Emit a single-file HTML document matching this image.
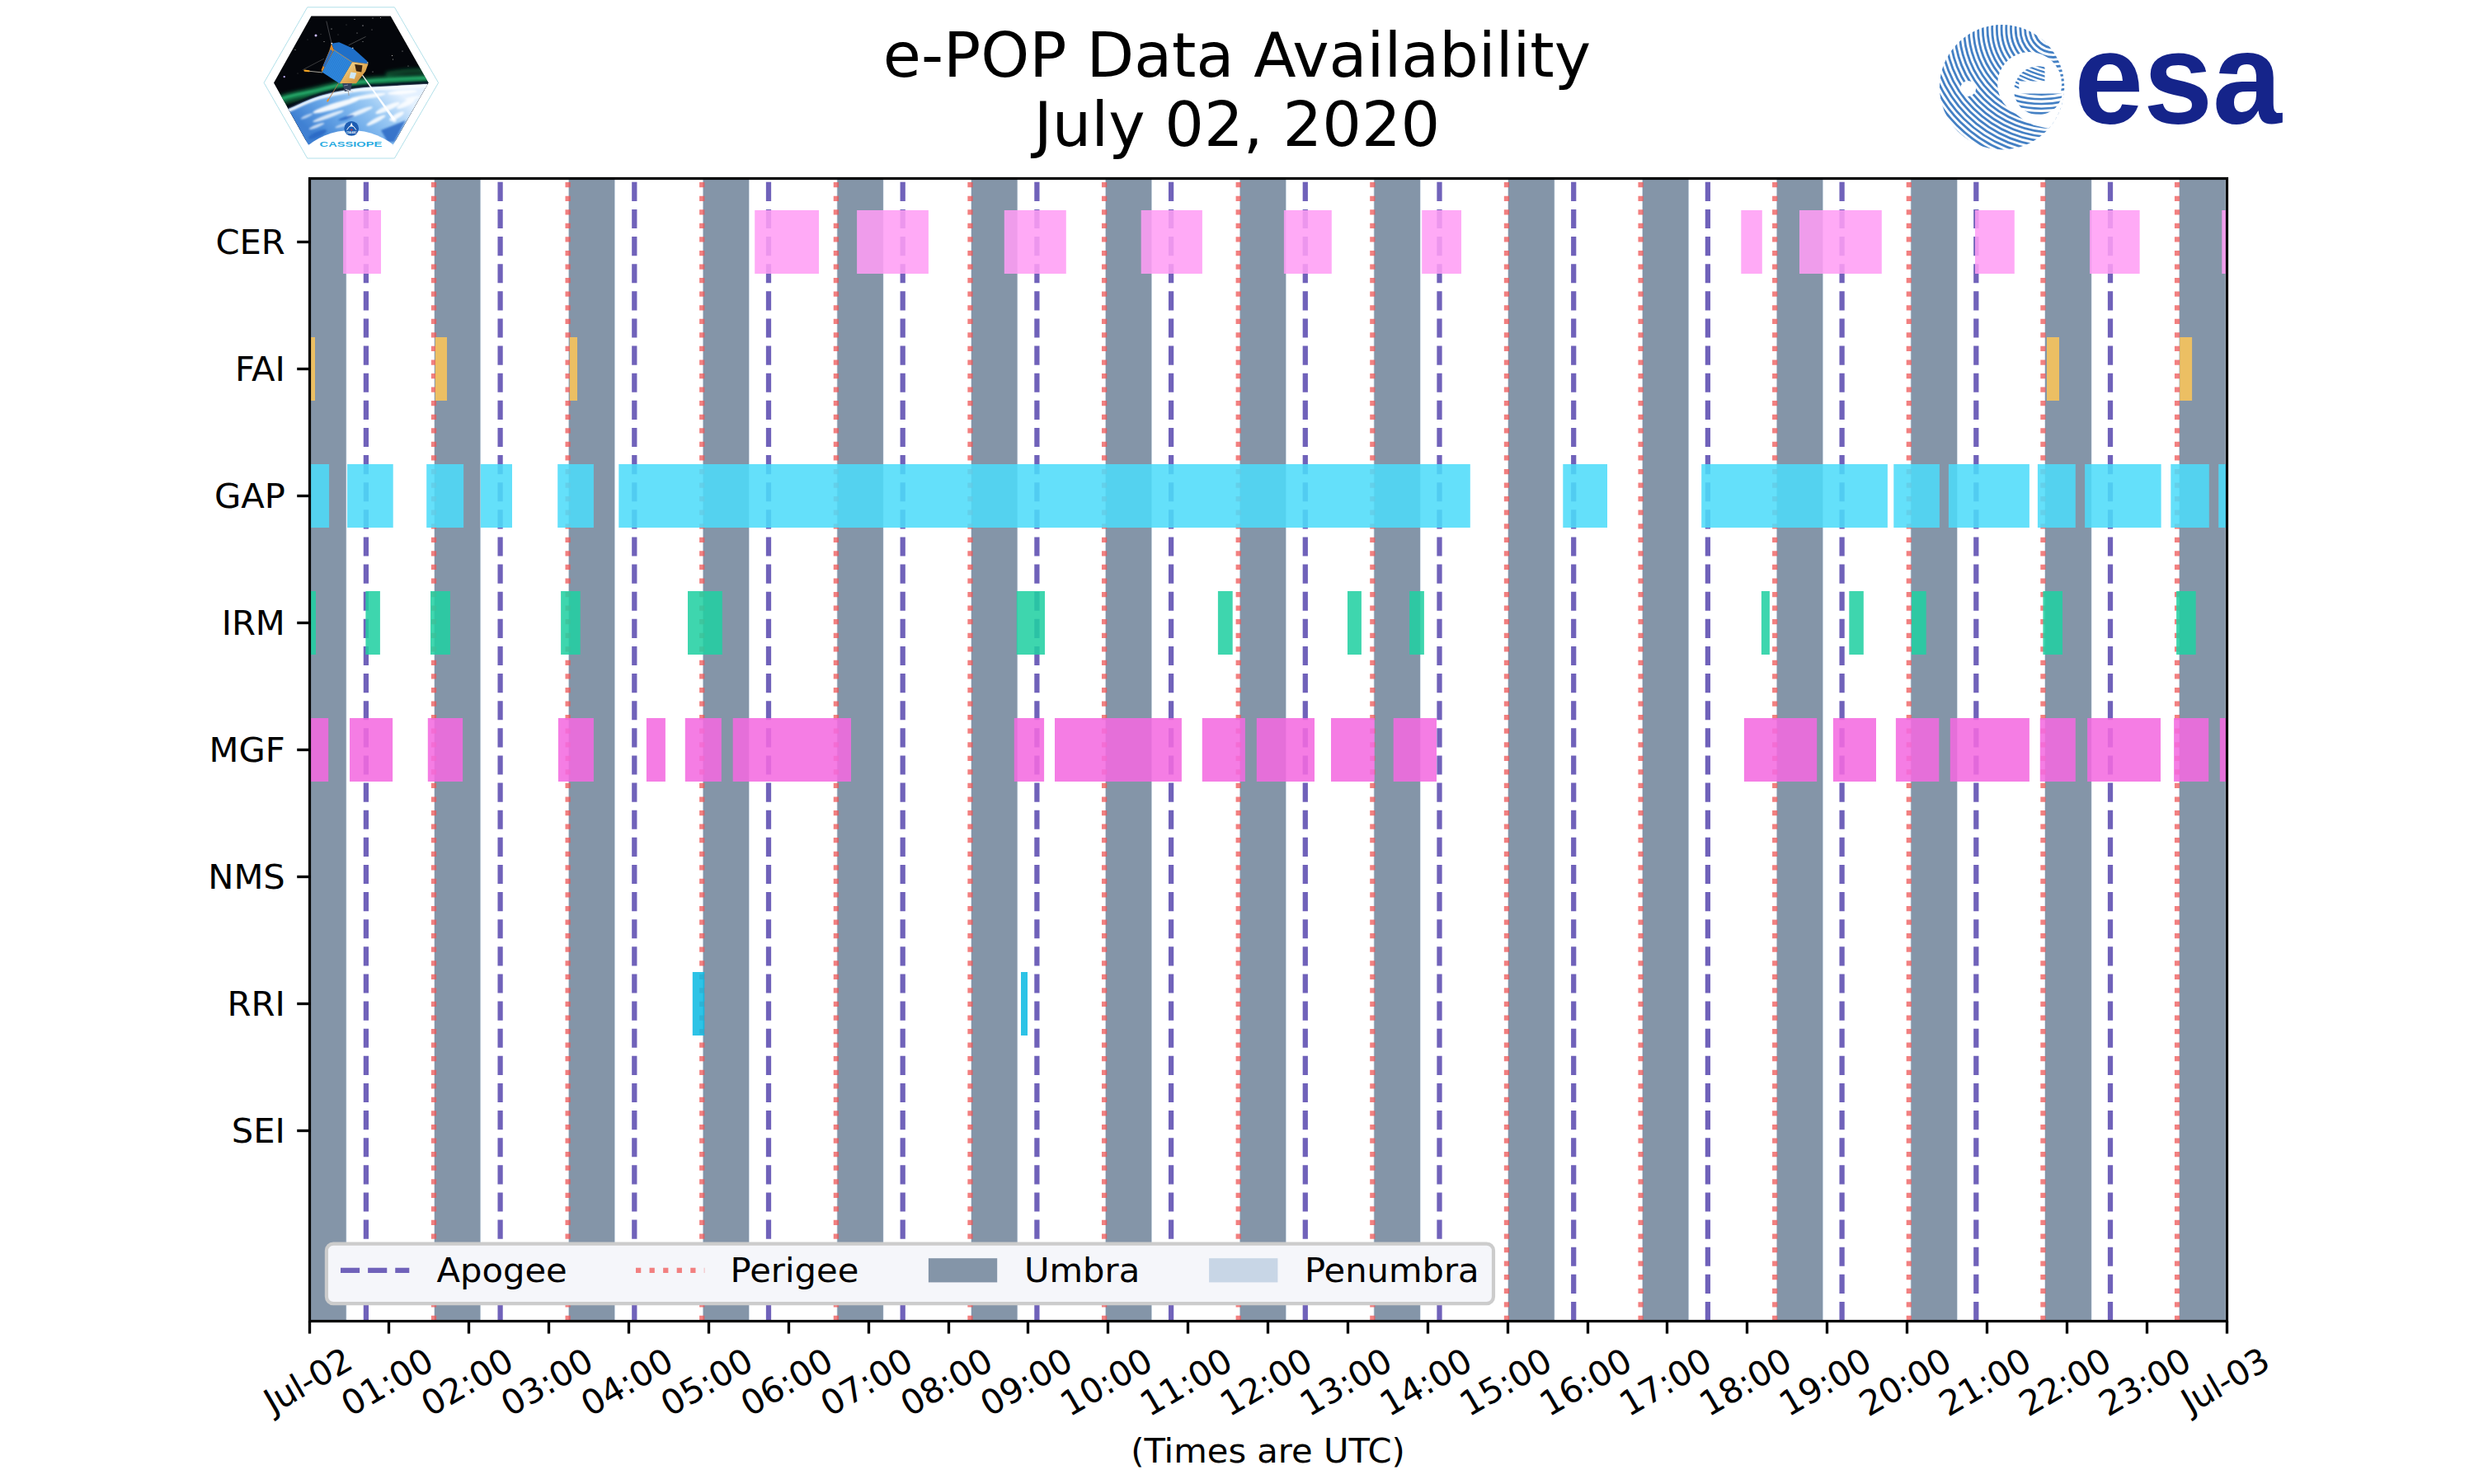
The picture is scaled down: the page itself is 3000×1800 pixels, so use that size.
<!DOCTYPE html>
<html lang="en"><head><meta charset="utf-8"><title>e-POP Data Availability</title>
<style>
html,body{margin:0;padding:0;background:#fff;}
body{width:3000px;height:1800px;overflow:hidden;}
svg{display:block;}
text{font-family:"DejaVu Sans","Liberation Sans",sans-serif;fill:#000;}
.t10{font-size:41.667px;}
.t18{font-size:75px;}
</style></head><body>
<svg width="3000" height="1800" viewBox="0 0 3000 1800">
<rect width="3000" height="1800" fill="#fff"/>
<g class="t18" text-anchor="middle"><text x="1500" y="93">e-POP Data Availability</text><text x="1500" y="177">July 02, 2020</text></g>
<g id="umbra" fill="#8495a8" shape-rendering="auto">
<rect x="375" y="216" width="44.9" height="1386"/><rect x="526.9" y="216" width="55.78" height="1386"/><rect x="689.65" y="216" width="55.81" height="1386"/><rect x="852.4" y="216" width="55.84" height="1386"/><rect x="1015.15" y="216" width="55.87" height="1386"/><rect x="1177.9" y="216" width="55.9" height="1386"/><rect x="1340.65" y="216" width="55.93" height="1386"/><rect x="1503.4" y="216" width="55.96" height="1386"/><rect x="1666.15" y="216" width="55.99" height="1386"/><rect x="1828.9" y="216" width="56.02" height="1386"/><rect x="1991.65" y="216" width="56.05" height="1386"/><rect x="2154.4" y="216" width="56.08" height="1386"/><rect x="2317.15" y="216" width="56.11" height="1386"/><rect x="2479.9" y="216" width="56.14" height="1386"/><rect x="2642.65" y="216" width="56.17" height="1386"/>
</g>
<g id="penumbra" fill="#c8d6e6">
<rect x="419.75" y="216" width="0.5" height="1386"/><rect x="526.5" y="216" width="0.5" height="1386"/><rect x="582.53" y="216" width="0.5" height="1386"/><rect x="689.25" y="216" width="0.5" height="1386"/><rect x="745.31" y="216" width="0.5" height="1386"/><rect x="852" y="216" width="0.5" height="1386"/><rect x="908.09" y="216" width="0.5" height="1386"/><rect x="1014.75" y="216" width="0.5" height="1386"/><rect x="1070.87" y="216" width="0.5" height="1386"/><rect x="1177.5" y="216" width="0.5" height="1386"/><rect x="1233.65" y="216" width="0.5" height="1386"/><rect x="1340.25" y="216" width="0.5" height="1386"/><rect x="1396.43" y="216" width="0.5" height="1386"/><rect x="1503" y="216" width="0.5" height="1386"/><rect x="1559.21" y="216" width="0.5" height="1386"/><rect x="1665.75" y="216" width="0.5" height="1386"/><rect x="1721.99" y="216" width="0.5" height="1386"/><rect x="1828.5" y="216" width="0.5" height="1386"/><rect x="1884.77" y="216" width="0.5" height="1386"/><rect x="1991.25" y="216" width="0.5" height="1386"/><rect x="2047.55" y="216" width="0.5" height="1386"/><rect x="2154" y="216" width="0.5" height="1386"/><rect x="2210.33" y="216" width="0.5" height="1386"/><rect x="2316.75" y="216" width="0.5" height="1386"/><rect x="2373.11" y="216" width="0.5" height="1386"/><rect x="2479.5" y="216" width="0.5" height="1386"/><rect x="2535.89" y="216" width="0.5" height="1386"/><rect x="2642.25" y="216" width="0.5" height="1386"/><rect x="2698.67" y="216" width="0.5" height="1386"/>
</g>
<g id="apogee" stroke="#7062ba" stroke-width="6.25" stroke-dasharray="23.125 10" fill="none">
<path d="M443.9 1602 V216"/><path d="M606.6 1602 V216"/><path d="M769.3 1602 V216"/><path d="M932 1602 V216"/><path d="M1094.7 1602 V216"/><path d="M1257.4 1602 V216"/><path d="M1420.1 1602 V216"/><path d="M1582.8 1602 V216"/><path d="M1745.5 1602 V216"/><path d="M1908.2 1602 V216"/><path d="M2070.9 1602 V216"/><path d="M2233.6 1602 V216"/><path d="M2396.3 1602 V216"/><path d="M2559 1602 V216"/>
</g>
<g id="perigee" stroke="rgba(238,86,86,0.75)" stroke-width="6.25" stroke-dasharray="6.25 10.3125" fill="none">
<path d="M526 1602 V216"/><path d="M688.62 1602 V216"/><path d="M851.24 1602 V216"/><path d="M1013.86 1602 V216"/><path d="M1176.48 1602 V216"/><path d="M1339.1 1602 V216"/><path d="M1501.72 1602 V216"/><path d="M1664.34 1602 V216"/><path d="M1826.96 1602 V216"/><path d="M1989.58 1602 V216"/><path d="M2152.2 1602 V216"/><path d="M2314.82 1602 V216"/><path d="M2477.44 1602 V216"/><path d="M2640.06 1602 V216"/>
</g>
<g fill="#ff9df5" fill-opacity="0.87"><rect x="416.1" y="255" width="45.9" height="77"/><rect x="915.2" y="255" width="77.8" height="77"/><rect x="1039.1" y="255" width="86.8" height="77"/><rect x="1217.8" y="255" width="75" height="77"/><rect x="1383.7" y="255" width="74.2" height="77"/><rect x="1556.9" y="255" width="57.9" height="77"/><rect x="1724.2" y="255" width="47.8" height="77"/><rect x="2111.3" y="255" width="25.5" height="77"/><rect x="2182" y="255" width="99.8" height="77"/><rect x="2395" y="255" width="47.8" height="77"/><rect x="2534" y="255" width="60.6" height="77"/><rect x="2694.3" y="255" width="5.7" height="77"/></g>
<g fill="#fbc658" fill-opacity="0.87"><rect x="375" y="409" width="7" height="77"/><rect x="527.8" y="409" width="14.2" height="77"/><rect x="690.8" y="409" width="9.2" height="77"/><rect x="2482" y="409" width="15" height="77"/><rect x="2643.2" y="409" width="14.9" height="77"/></g>
<g fill="#4ddbf9" fill-opacity="0.87"><rect x="375" y="563" width="24.1" height="77"/><rect x="421.1" y="563" width="55.6" height="77"/><rect x="517.2" y="563" width="44.9" height="77"/><rect x="582.8" y="563" width="38.2" height="77"/><rect x="676.2" y="563" width="43.7" height="77"/><rect x="750.3" y="563" width="1032.5" height="77"/><rect x="1895.3" y="563" width="53.7" height="77"/><rect x="2063.2" y="563" width="225.7" height="77"/><rect x="2296.3" y="563" width="55.6" height="77"/><rect x="2362.9" y="563" width="98" height="77"/><rect x="2470.9" y="563" width="45.9" height="77"/><rect x="2528.1" y="563" width="92.5" height="77"/><rect x="2632.3" y="563" width="46.5" height="77"/><rect x="2690.2" y="563" width="9.8" height="77"/></g>
<g fill="#21d0a2" fill-opacity="0.87"><rect x="375" y="717" width="8" height="77"/><rect x="443.4" y="717" width="17.5" height="77"/><rect x="522" y="717" width="23.9" height="77"/><rect x="680.1" y="717" width="23.6" height="77"/><rect x="834" y="717" width="41.8" height="77"/><rect x="1232.8" y="717" width="34.2" height="77"/><rect x="1476.9" y="717" width="17.8" height="77"/><rect x="1634" y="717" width="16.9" height="77"/><rect x="1709.1" y="717" width="17.8" height="77"/><rect x="2135.9" y="717" width="10" height="77"/><rect x="2242.3" y="717" width="17.5" height="77"/><rect x="2318" y="717" width="17.7" height="77"/><rect x="2477.4" y="717" width="23.6" height="77"/><rect x="2639.1" y="717" width="23.6" height="77"/></g>
<g fill="#f36ae0" fill-opacity="0.87"><rect x="375" y="871" width="23.2" height="77"/><rect x="424" y="871" width="52.1" height="77"/><rect x="518.8" y="871" width="42.3" height="77"/><rect x="676.9" y="871" width="43" height="77"/><rect x="783.9" y="871" width="23" height="77"/><rect x="830.8" y="871" width="44" height="77"/><rect x="888.7" y="871" width="143.3" height="77"/><rect x="1229.8" y="871" width="36.3" height="77"/><rect x="1279" y="871" width="153.9" height="77"/><rect x="1457.8" y="871" width="52.1" height="77"/><rect x="1523.8" y="871" width="70.2" height="77"/><rect x="1614" y="871" width="52.7" height="77"/><rect x="1689.7" y="871" width="52.3" height="77"/><rect x="2114.9" y="871" width="88.3" height="77"/><rect x="2222.9" y="871" width="52.1" height="77"/><rect x="2298.9" y="871" width="52.4" height="77"/><rect x="2364.8" y="871" width="96.1" height="77"/><rect x="2473.8" y="871" width="43" height="77"/><rect x="2531.1" y="871" width="88.9" height="77"/><rect x="2636.1" y="871" width="42.1" height="77"/><rect x="2691.8" y="871" width="8.2" height="77"/></g>
<g fill="#0ebae2" fill-opacity="0.87"><rect x="375" y="1179" width="1.5" height="77"/><rect x="839.8" y="1179" width="14.5" height="77"/><rect x="1238" y="1179" width="8" height="77"/></g>
<rect x="375.5" y="216.5" width="2325" height="1386" fill="none" stroke="#000" stroke-width="3.2" stroke-linejoin="miter"/>
<g stroke="#000" stroke-width="3.333">
<path d="M375.5 1602.5 V1617.6"/><path d="M471.5 1602.5 V1617.6"/><path d="M568.5 1602.5 V1617.6"/><path d="M665.5 1602.5 V1617.6"/><path d="M762.5 1602.5 V1617.6"/><path d="M859.5 1602.5 V1617.6"/><path d="M956.5 1602.5 V1617.6"/><path d="M1053.5 1602.5 V1617.6"/><path d="M1150.5 1602.5 V1617.6"/><path d="M1246.5 1602.5 V1617.6"/><path d="M1343.5 1602.5 V1617.6"/><path d="M1440.5 1602.5 V1617.6"/><path d="M1537.5 1602.5 V1617.6"/><path d="M1634.5 1602.5 V1617.6"/><path d="M1731.5 1602.5 V1617.6"/><path d="M1828.5 1602.5 V1617.6"/><path d="M1925.5 1602.5 V1617.6"/><path d="M2021.5 1602.5 V1617.6"/><path d="M2118.5 1602.5 V1617.6"/><path d="M2215.5 1602.5 V1617.6"/><path d="M2312.5 1602.5 V1617.6"/><path d="M2409.5 1602.5 V1617.6"/><path d="M2506.5 1602.5 V1617.6"/><path d="M2603.5 1602.5 V1617.6"/><path d="M2700.5 1602.5 V1617.6"/><path d="M375.5 293.5 H360.2"/><path d="M375.5 447.5 H360.2"/><path d="M375.5 601.5 H360.2"/><path d="M375.5 755.5 H360.2"/><path d="M375.5 909.5 H360.2"/><path d="M375.5 1063.5 H360.2"/><path d="M375.5 1217.5 H360.2"/><path d="M375.5 1371.5 H360.2"/>
</g>
<g class="t10" text-anchor="end">
<text x="345.8" y="308.3">CER</text><text x="345.8" y="462.3">FAI</text><text x="345.8" y="616.3">GAP</text><text x="345.8" y="770.3">IRM</text><text x="345.8" y="924.3">MGF</text><text x="345.8" y="1078.3">NMS</text><text x="345.8" y="1232.3">RRI</text><text x="345.8" y="1386.3">SEI</text>
</g>
<g class="t10" text-anchor="middle">
<text transform="translate(373.2 1674) rotate(-30)" y="15" textLength="114.8" lengthAdjust="spacing">Jul-02</text><text transform="translate(469.27 1676) rotate(-30)" y="15">01:00</text><text transform="translate(566.15 1676) rotate(-30)" y="15">02:00</text><text transform="translate(663.02 1676) rotate(-30)" y="15">03:00</text><text transform="translate(759.9 1676) rotate(-30)" y="15">04:00</text><text transform="translate(856.77 1676) rotate(-30)" y="15">05:00</text><text transform="translate(953.65 1676) rotate(-30)" y="15">06:00</text><text transform="translate(1050.53 1676) rotate(-30)" y="15">07:00</text><text transform="translate(1147.4 1676) rotate(-30)" y="15">08:00</text><text transform="translate(1244.28 1676) rotate(-30)" y="15">09:00</text><text transform="translate(1341.15 1676) rotate(-30)" y="15">10:00</text><text transform="translate(1438.03 1676) rotate(-30)" y="15">11:00</text><text transform="translate(1534.9 1676) rotate(-30)" y="15">12:00</text><text transform="translate(1631.78 1676) rotate(-30)" y="15">13:00</text><text transform="translate(1728.65 1676) rotate(-30)" y="15">14:00</text><text transform="translate(1825.53 1676) rotate(-30)" y="15">15:00</text><text transform="translate(1922.4 1676) rotate(-30)" y="15">16:00</text><text transform="translate(2019.28 1676) rotate(-30)" y="15">17:00</text><text transform="translate(2116.15 1676) rotate(-30)" y="15">18:00</text><text transform="translate(2213.03 1676) rotate(-30)" y="15">19:00</text><text transform="translate(2309.9 1676) rotate(-30)" y="15">20:00</text><text transform="translate(2406.78 1676) rotate(-30)" y="15">21:00</text><text transform="translate(2503.65 1676) rotate(-30)" y="15">22:00</text><text transform="translate(2600.53 1676) rotate(-30)" y="15">23:00</text><text transform="translate(2698.2 1674) rotate(-30)" y="15" textLength="114.8" lengthAdjust="spacing">Jul-03</text>
</g>
<text class="t10" text-anchor="middle" x="1537.5" y="1773.7">(Times are UTC)</text>
<g id="legend">
<rect x="395.9" y="1508.6" width="1415.1" height="72.5" rx="8.3" ry="8.3" fill="#f5f6fa" stroke="#cccccc" stroke-width="4.167"/>
<path d="M413 1540.8 H496.3" stroke="#7062ba" stroke-width="6.25" stroke-dasharray="23.125 10" fill="none"/>
<path d="M771 1540.8 H854.3" stroke="#f28080" stroke-width="6.25" stroke-dasharray="6.25 10.3125" fill="none"/>
<rect x="1125.9" y="1526.2" width="83.3" height="29.2" fill="#8495a8"/>
<rect x="1466.1" y="1526.2" width="83.3" height="29.2" fill="#c8d6e6"/>
<g class="t10"><text x="529.6" y="1555.4">Apogee</text><text x="885.6" y="1555.4">Perigee</text><text x="1242" y="1555.4">Umbra</text><text x="1581.9" y="1555.4">Penumbra</text></g>
</g>
<g id="cassiope">
<defs>
<clipPath id="hexclip"><path d="M332 100.4 L377.4 19.5 L473.7 19.5 L519.5 100.4 L476.2 176.5 L476.2 186 L374.4 186 L374.4 176.5 Z"/></clipPath>
<filter id="bl1" x="-20%" y="-60%" width="140%" height="220%"><feGaussianBlur stdDeviation="2"/></filter>
<filter id="bl2" x="-20%" y="-50%" width="140%" height="200%"><feGaussianBlur stdDeviation="1"/></filter>
<filter id="bl3" x="-20%" y="-20%" width="140%" height="140%"><feGaussianBlur stdDeviation="0.45"/></filter>
<linearGradient id="earthg" gradientUnits="userSpaceOnUse" x1="470" y1="100" x2="400" y2="180"><stop offset="0" stop-color="#e4f1ff"/><stop offset="0.3" stop-color="#9ccaf4"/><stop offset="0.65" stop-color="#6aa8e8"/><stop offset="1" stop-color="#3f80d2"/></linearGradient>
<linearGradient id="goldg" x1="0" y1="0" x2="1" y2="1"><stop offset="0" stop-color="#f6e2a4"/><stop offset="0.55" stop-color="#e3ad56"/><stop offset="1" stop-color="#c27c32"/></linearGradient>
</defs>
<path d="M320.1 100.4 L372.7 8.8 L478.4 8.8 L531.6 100.4 L478.4 192 L372.7 192 Z" fill="#fff" stroke="#a9dde6" stroke-width="0.9"/>
<g clip-path="url(#hexclip)">
<rect x="330" y="18" width="192" height="152" fill="#04060b"/>
<circle cx="383" cy="43" r="1.5" fill="#cdbcff"/><circle cx="344.7" cy="93.1" r="1.2" fill="#b9a8f0"/><circle cx="402" cy="35" r="0.5" fill="#fff"/><circle cx="430" cy="23.5" r="0.5" fill="#ddd"/><circle cx="440" cy="31" r="0.6" fill="#fff"/><circle cx="452" cy="22" r="0.5" fill="#ccc"/><circle cx="393" cy="50.5" r="0.5" fill="#ddd"/><circle cx="433" cy="40" r="0.5" fill="#ccc"/><circle cx="461.5" cy="21.5" r="0.6" fill="#bbb"/><circle cx="475.5" cy="67.5" r="0.6" fill="#ddd"/><circle cx="476.5" cy="72" r="0.5" fill="#ccc"/><circle cx="451" cy="36" r="0.5" fill="#aaa"/><circle cx="488" cy="62" r="0.5" fill="#ccc"/><circle cx="452" cy="87" r="0.5" fill="#ccc"/><circle cx="420" cy="30" r="0.4" fill="#aaa"/><circle cx="358" cy="60.5" r="0.6" fill="#bbb"/><circle cx="373" cy="48" r="0.4" fill="#999"/><circle cx="495" cy="80" r="0.5" fill="#bbb"/><circle cx="410" cy="42" r="0.4" fill="#aaa"/><circle cx="440" cy="50.5" r="0.5" fill="#bbb"/><circle cx="389" cy="41.5" r="0.4" fill="#aaa"/><circle cx="361" cy="89" r="0.4" fill="#999"/>
<g filter="url(#bl1)" fill="none" stroke-linecap="round"><path d="M326 127 C330 125.67 341.25 121.37 350 119 C358.75 116.63 368.37 115.1 378.5 112.8 C388.63 110.5 398.67 107.37 410.8 105.2 C422.93 103.03 433.77 101.28 451.3 99.8 C468.83 98.32 503.55 96.95 516 96.3 C528.45 95.65 524.33 95.97 526 95.9" stroke="#0a5a38" stroke-width="13" opacity="0.8"/><path d="M326 125.5 C330 124.17 341.25 119.87 350 117.5 C358.75 115.13 368.37 113.6 378.5 111.3 C388.63 109 398.67 105.87 410.8 103.7 C422.93 101.53 433.77 99.78 451.3 98.3 C468.83 96.82 503.55 95.45 516 94.8 C528.45 94.15 524.33 94.47 526 94.4" stroke="#1fa864" stroke-width="4.6" opacity="0.95"/><path d="M470 89.5 Q498 84 526 86" stroke="#138048" stroke-width="5" opacity="0.6"/></g>
<path d="M326 125 C330 123.67 341.25 119.37 350 117 C358.75 114.63 368.37 113.1 378.5 110.8 C388.63 108.5 398.67 105.37 410.8 103.2 C422.93 101.03 433.77 99.28 451.3 97.8 C468.83 96.32 503.55 94.95 516 94.3 C528.45 93.65 524.33 93.97 526 93.9" fill="none" stroke="#58e69a" stroke-width="1.4" opacity="0.45" filter="url(#bl2)"/>
<path d="M326 139.3 C330 137.55 339.9 133.1 350 128.8 C360.1 124.5 373.1 117.6 386.6 113.5 C400.1 109.4 416.85 106.22 431 104.2 C445.15 102.18 457.33 102.28 471.5 101.4 C485.67 100.52 506.92 99.4 516 98.9 C525.08 98.4 524.33 98.48 526 98.4 L526 172 L326 172 Z" fill="#060a24" filter="url(#bl2)"/>
<path d="M326 142.5 C330 140.75 339.9 136.3 350 132 C360.1 127.7 373.1 120.8 386.6 116.7 C400.1 112.6 416.85 109.42 431 107.4 C445.15 105.38 457.33 105.48 471.5 104.6 C485.67 103.72 506.92 102.6 516 102.1 C525.08 101.6 524.33 101.68 526 101.6 L526 177 L326 177 Z" fill="url(#earthg)" filter="url(#bl3)"/>
<path d="M326 144.7 C330 142.95 339.9 138.5 350 134.2 C360.1 129.9 373.1 123 386.6 118.9 C400.1 114.8 416.85 111.62 431 109.6 C445.15 107.58 457.33 107.68 471.5 106.8 C485.67 105.92 506.92 104.8 516 104.3 C525.08 103.8 524.33 103.88 526 103.8" fill="none" stroke="#f6fbff" stroke-width="3.6" filter="url(#bl2)"/>
<g filter="url(#bl2)" fill="#fff"><ellipse cx="408" cy="128" rx="30" ry="3.6" transform="rotate(-17 408 128)" opacity="0.9"/><ellipse cx="446" cy="117" rx="22" ry="2.6" transform="rotate(-9 446 117)" opacity="0.85"/><ellipse cx="488" cy="112" rx="18" ry="2.2" transform="rotate(-5 488 112)" opacity="0.85"/><ellipse cx="398" cy="141" rx="20" ry="2.4" transform="rotate(-20 398 141)" opacity="0.75"/><ellipse cx="436" cy="136" rx="17" ry="2.6" transform="rotate(-22 436 136)" opacity="0.8"/><ellipse cx="470" cy="131" rx="16" ry="3.4" transform="rotate(-24 470 131)" opacity="0.85"/><ellipse cx="492" cy="126" rx="12" ry="3" transform="rotate(-26 492 126)" opacity="0.8"/><ellipse cx="384" cy="153" rx="10" ry="1.8" transform="rotate(-22 384 153)" opacity="0.7"/><ellipse cx="415" cy="152" rx="9" ry="1.6" transform="rotate(-18 415 152)" opacity="0.6"/><ellipse cx="456" cy="146" rx="13" ry="2.6" transform="rotate(-28 456 146)" opacity="0.85"/><ellipse cx="481" cy="141" rx="10" ry="3" transform="rotate(-30 481 141)" opacity="0.85"/><ellipse cx="500" cy="119" rx="9" ry="1.8" transform="rotate(-12 500 119)" opacity="0.7"/><ellipse cx="372" cy="141" rx="8" ry="1.6" transform="rotate(-24 372 141)" opacity="0.6"/></g>
<g filter="url(#bl2)" fill="#2a68c4" opacity="0.85"><path d="M462 158 L492 146 L478 172 L470 172 Z"/><ellipse cx="385" cy="163" rx="12" ry="3.4" transform="rotate(-24 385 163)"/><ellipse cx="420" cy="143" rx="10" ry="1.8" transform="rotate(-16 420 143)"/></g>
<path d="M437.6 89.5 L438.6 89 L479.3 144.2 L476.3 145.8 Z" fill="#ffffff" opacity="0.92" filter="url(#bl3)"/>
<circle cx="478" cy="145.5" r="2.6" fill="#fff" opacity="0.8" filter="url(#bl2)"/>
<g stroke-linecap="round" fill="none"><path d="M395.9 26 L401.9 51.9" stroke="#6c6c70" stroke-width="0.6"/><path d="M443.2 44.6 L423 54.7" stroke="#707070" stroke-width="0.6"/><path d="M367.2 84.6 L392.7 71.3" stroke="#666" stroke-width="0.55"/><path d="M371 85.9 L390.6 87.9" stroke="#b9b4a8" stroke-width="0.9"/><path d="M369.4 85.6 L374.6 86.2" stroke="#f5a623" stroke-width="2.1"/><path d="M410.8 100.5 L397.9 121.5" stroke="#b87848" stroke-width="0.9"/><path d="M398.4 120.6 L397.2 122.6" stroke="#f09020" stroke-width="1.9"/><path d="M421.5 104 L423 115.6" stroke="#9a8a78" stroke-width="0.7"/></g>
<path d="M401.9 52.7 L405.2 60.8 L390.6 87.5 L389.6 84.8 L399.3 61.6 Z" fill="#d98a2c"/>
<path d="M400.6 60 L403.6 62 L393.5 82 L391.8 79.5 Z" fill="#2d6cbc"/>
<path d="M427 75.3 L446.4 77.8 L443.2 86.6 L431.9 101.2 L411.6 101.2 Z" fill="url(#goldg)"/>
<path d="M430.2 78 L439.5 79.2 L438.3 87.5 L432 86.2 Z" fill="#38220f"/>
<path d="M425.4 87.5 L432.2 88.6 L429.8 95.8 L423.4 94.6 Z" fill="#cfe8f8"/>
<path d="M405.2 60.8 L427 75.3 L411.6 101.2 L390.6 87.5 Z" fill="#2f88de"/>
<g stroke="#1f66b8" stroke-width="0.35"><path d="M407.02 62.01 L392.35 88.64"/><path d="M408.83 63.22 L394.1 89.78"/><path d="M410.65 64.42 L395.85 90.92"/><path d="M412.47 65.63 L397.6 92.07"/><path d="M414.28 66.84 L399.35 93.21"/><path d="M416.1 68.05 L401.1 94.35"/><path d="M417.92 69.26 L402.85 95.49"/><path d="M419.73 70.47 L404.6 96.63"/><path d="M421.55 71.67 L406.35 97.78"/><path d="M423.37 72.88 L408.1 98.92"/><path d="M425.18 74.09 L409.85 100.06"/></g>
<path d="M401.9 52.7 L411.2 51.2 L428.2 58.8 L445.2 74.1 L446.4 77.8 L427 75.3 L405.2 60.8 Z" fill="#1f6fc8"/>
<path d="M405.2 60.8 L427 75.3 L446.4 77.8" fill="none" stroke="#e8a850" stroke-width="0.7"/>
<circle cx="402.3" cy="52.6" r="0.9" fill="#fff"/><circle cx="427.8" cy="58.3" r="0.7" fill="#eee"/><circle cx="445.8" cy="76" r="0.8" fill="#f4e0b0"/>
<path d="M415 101 L427 101 L425 110 L418 111 Z" fill="#34445e"/><path d="M419 108.5 L428.5 111.5" stroke="#d8d8e0" stroke-width="1"/><path d="M417 104 L422 103" stroke="#8fa0b8" stroke-width="0.8"/>
<circle cx="425.8" cy="240.4" r="82.5" fill="#ffffff"/><rect x="360" y="175.6" width="130" height="14" fill="#ffffff"/>
<circle cx="426.2" cy="155.9" r="8.9" fill="#1d5db2"/>
<path d="M420.6 157.6 Q426.2 147 431.8 157.6" fill="none" stroke="#fff" stroke-width="1"/><path d="M426.2 148.6 L424.4 153.6 L428 153.6 Z" fill="#fff"/><circle cx="426.4" cy="157.4" r="1" fill="#e03030"/>
<text x="426.2" y="162.4" text-anchor="middle" style="font-family:'Liberation Sans',sans-serif;font-weight:bold;font-size:2.8px;fill:#fff">CSA ASC</text>
</g>
<text x="387.6" y="178.1" textLength="75.6" lengthAdjust="spacingAndGlyphs" style="font-family:'Liberation Sans',sans-serif;font-weight:bold;font-size:8.7px;fill:#28aae1">CASSIOPE</text>
</g>
<g id="esa">
<defs>
<clipPath id="globe"><circle cx="2427.6" cy="105.8" r="75.7"/></clipPath>
<clipPath id="ein"><circle cx="2471.7" cy="109.8" r="29.5"/></clipPath>
<clipPath id="eeye"><path d="M2430 70 H2479.5 V98.5 H2448.3 V113.5 H2430 Z"/></clipPath>
<clipPath id="ebowl"><path d="M2430 113.5 H2520 V150 H2430 Z"/></clipPath>
</defs>
<g clip-path="url(#globe)">
<g fill="none" stroke="#4480c4" stroke-width="2.8"><circle cx="2490" cy="35" r="11.73"/><circle cx="2490" cy="35" r="17.42"/><circle cx="2490" cy="35" r="23.11"/><circle cx="2490" cy="35" r="28.8"/><circle cx="2490" cy="35" r="34.49"/><circle cx="2490" cy="35" r="40.18"/><circle cx="2490" cy="35" r="45.87"/><circle cx="2490" cy="35" r="51.56"/><circle cx="2490" cy="35" r="57.25"/><circle cx="2490" cy="35" r="62.94"/><circle cx="2490" cy="35" r="68.63"/><circle cx="2490" cy="35" r="74.32"/><circle cx="2490" cy="35" r="80.01"/><circle cx="2490" cy="35" r="85.7"/><circle cx="2490" cy="35" r="91.39"/><circle cx="2490" cy="35" r="97.08"/><circle cx="2490" cy="35" r="102.77"/><circle cx="2490" cy="35" r="108.46"/><circle cx="2490" cy="35" r="114.15"/><circle cx="2490" cy="35" r="119.84"/><circle cx="2490" cy="35" r="125.53"/><circle cx="2490" cy="35" r="131.22"/><circle cx="2490" cy="35" r="136.91"/><circle cx="2490" cy="35" r="142.6"/><circle cx="2490" cy="35" r="148.29"/><circle cx="2490" cy="35" r="153.98"/><circle cx="2490" cy="35" r="159.67"/><circle cx="2490" cy="35" r="165.36"/><circle cx="2490" cy="35" r="171.05"/><circle cx="2490" cy="35" r="176.74"/><circle cx="2490" cy="35" r="182.43"/></g>
<circle cx="2461.1" cy="102" r="39" fill="#fff"/>
<path d="M2436 128 L2443 137 L2454.6 146 L2466 151.8 L2483.2 155.8 L2505 160 L2515 130 L2515 112 L2494 112 L2470 125 Z" fill="#fff"/>
<circle cx="2386.6" cy="107.4" r="9.5" fill="#fff"/>
<g clip-path="url(#ein)"><g clip-path="url(#eeye)" fill="none" stroke="#4480c4" stroke-width="2.3"><circle cx="2519.8" cy="-55.7" r="134.65"/><circle cx="2519.8" cy="-55.7" r="139.4"/><circle cx="2519.8" cy="-55.7" r="144.15"/><circle cx="2519.8" cy="-55.7" r="148.9"/><circle cx="2519.8" cy="-55.7" r="153.65"/><circle cx="2519.8" cy="-55.7" r="158.4"/><circle cx="2519.8" cy="-55.7" r="163.15"/><circle cx="2519.8" cy="-55.7" r="167.9"/><circle cx="2519.8" cy="-55.7" r="172.65"/><circle cx="2519.8" cy="-55.7" r="177.4"/></g><g clip-path="url(#ebowl)" fill="none" stroke="#4480c4" stroke-width="2.6"><circle cx="2475.6" cy="3.6" r="111.02"/><circle cx="2475.6" cy="3.6" r="116.71"/><circle cx="2475.6" cy="3.6" r="122.4"/><circle cx="2475.6" cy="3.6" r="128.09"/><circle cx="2475.6" cy="3.6" r="133.78"/><circle cx="2475.6" cy="3.6" r="139.47"/><circle cx="2475.6" cy="3.6" r="145.16"/></g></g>
</g>
<text x="2515.3" y="148.7" textLength="251.7" lengthAdjust="spacingAndGlyphs" style="font-family:'Liberation Sans',sans-serif;font-weight:bold;font-size:157px;fill:#15248a">esa</text>
</g>
</svg>
</body></html>
